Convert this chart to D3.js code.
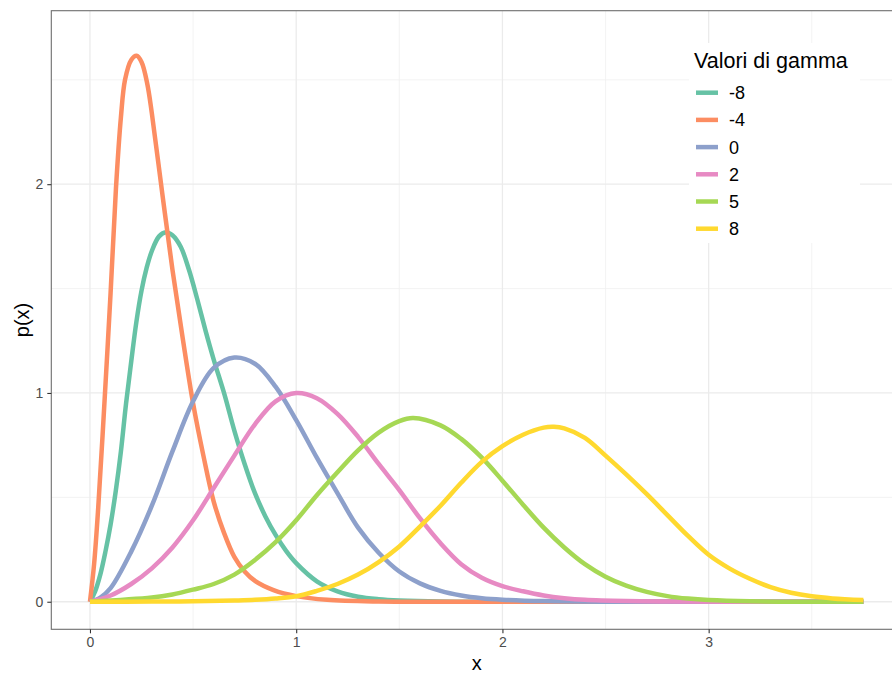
<!DOCTYPE html>
<html>
<head>
<meta charset="utf-8">
<script src="https://cdn.jsdelivr.net/npm/d3@7"></script>
<style>
  body { margin: 0; background: #fff; }
  svg { display: block; font-family: "Liberation Sans", Arial, sans-serif; }
</style>
</head>
<body>
<div id="main-vis"></div>
<script>
// values of gamma shown in the legend
const gammaValues = ['-8', '-4', '0', '2', '5', '8']

// curves, [x, p(x)]
const curveM8 = [[0,0],[0.025,0.05],[0.05,0.13],[0.075,0.24],[0.1,0.37],[0.125,0.53],[0.15,0.72],[0.175,0.95],[0.2,1.15],[0.225,1.34],[0.25,1.49],[0.275,1.6],[0.3,1.68],[0.335,1.75],[0.368,1.77],[0.4,1.755],[0.44,1.7],[0.48,1.59],[0.52,1.45],[0.56,1.3],[0.6,1.16],[0.65,1.0],[0.7,0.82],[0.75,0.66],[0.8,0.52],[0.85,0.41],[0.9,0.32],[0.95,0.245],[1.0,0.185],[1.1,0.098],[1.2,0.05],[1.3,0.024],[1.4,0.012],[1.5,0.006],[1.7,0.001],[2.0,0],[3.75,0]]
const curveM4 = [[0,0],[0.02,0.18],[0.04,0.45],[0.07,0.95],[0.1,1.48],[0.126,1.98],[0.15,2.32],[0.17,2.5],[0.2,2.595],[0.226,2.615],[0.25,2.585],[0.278,2.48],[0.3,2.34],[0.35,1.96],[0.4,1.59],[0.45,1.26],[0.5,0.95],[0.55,0.7],[0.6,0.48],[0.65,0.33],[0.7,0.215],[0.75,0.145],[0.8,0.1],[0.89,0.056],[1.0,0.027],[1.15,0.009],[1.4,0.001],[1.8,0],[3.75,0]]
const curve0 = [[0,0],[0.05,0.02],[0.1,0.065],[0.2,0.24],[0.3,0.46],[0.4,0.72],[0.5,0.96],[0.6,1.12],[0.7,1.17],[0.8,1.14],[0.9,1.03],[1.0,0.87],[1.1,0.69],[1.2,0.52],[1.3,0.355],[1.4,0.235],[1.5,0.145],[1.6,0.088],[1.7,0.052],[1.8,0.03],[1.9,0.017],[2.0,0.01],[2.2,0.003],[2.5,0],[3.75,0]]
const curve2 = [[0,0],[0.1,0.03],[0.2,0.085],[0.3,0.16],[0.4,0.26],[0.5,0.39],[0.6,0.545],[0.7,0.7],[0.8,0.85],[0.9,0.96],[1.0,1.0],[1.1,0.975],[1.2,0.9],[1.3,0.79],[1.4,0.66],[1.5,0.535],[1.6,0.4],[1.7,0.28],[1.8,0.18],[1.9,0.115],[2.0,0.075],[2.1,0.05],[2.2,0.03],[2.3,0.017],[2.4,0.009],[2.6,0.003],[2.8,0.001],[3.1,0],[3.75,0]]
const curve5 = [[0,0],[0.3,0.02],[0.4,0.035],[0.5,0.058],[0.6,0.085],[0.7,0.13],[0.8,0.2],[0.9,0.285],[1.0,0.39],[1.1,0.51],[1.2,0.62],[1.3,0.725],[1.4,0.81],[1.5,0.865],[1.567,0.88],[1.7,0.845],[1.8,0.78],[1.9,0.69],[2.0,0.58],[2.1,0.465],[2.2,0.355],[2.3,0.26],[2.4,0.18],[2.5,0.12],[2.6,0.077],[2.7,0.047],[2.8,0.027],[2.9,0.015],[3.0,0.008],[3.2,0.002],[3.5,0],[3.75,0]]
const curve8 = [[0,0],[0.3,0.001],[0.5,0.002],[0.7,0.006],[0.8,0.009],[0.9,0.015],[1.0,0.026],[1.1,0.052],[1.2,0.085],[1.3,0.13],[1.4,0.19],[1.5,0.265],[1.6,0.36],[1.7,0.46],[1.8,0.57],[1.9,0.67],[2.0,0.745],[2.1,0.8],[2.2,0.834],[2.25,0.838],[2.3,0.83],[2.4,0.785],[2.5,0.7],[2.6,0.61],[2.7,0.515],[2.8,0.415],[2.9,0.315],[3.0,0.225],[3.1,0.16],[3.2,0.11],[3.3,0.07],[3.4,0.043],[3.5,0.026],[3.6,0.016],[3.75,0.008]]

const curves = [curveM8, curveM4, curve0, curve2, curve5, curve8]

const xTicks = [0, 1, 2, 3]
const yTicks = [0, 1, 2]
const xMinor = [0.5, 1.5, 2.5, 3.5]
const yMinor = [0.5, 1.5, 2.5]

window.onload = setup

function setup () {
    const W = 892, H = 678
    const svg = d3.create('svg')
        .attr('width', W)
        .attr('height', H)

    const x = d3.scaleLinear().domain([-0.1875, 3.9375]).range([51.3, 902])
    const y = d3.scaleLinear().domain([-0.132, 2.831]).range([629.3, 10.7])
    const color = d3.scaleOrdinal().domain(gammaValues).range(d3.schemeSet2)

    // panel
    svg.append('rect')
        .attr('x', x.range()[0]).attr('y', y.range()[1])
        .attr('width', x.range()[1] - x.range()[0])
        .attr('height', y.range()[0] - y.range()[1])
        .attr('fill', '#fff')

    const grid = svg.append('g')
    grid.selectAll('.vminor').data(xMinor).join('line')
        .attr('x1', d => x(d)).attr('x2', d => x(d))
        .attr('y1', y.range()[0]).attr('y2', y.range()[1])
        .attr('stroke', '#f0f0f0').attr('stroke-width', 0.8)
    grid.selectAll('.hminor').data(yMinor).join('line')
        .attr('y1', d => y(d)).attr('y2', d => y(d))
        .attr('x1', x.range()[0]).attr('x2', x.range()[1])
        .attr('stroke', '#f0f0f0').attr('stroke-width', 0.8)
    grid.selectAll('.vmajor').data(xTicks).join('line')
        .attr('x1', d => x(d)).attr('x2', d => x(d))
        .attr('y1', y.range()[0]).attr('y2', y.range()[1])
        .attr('stroke', '#ebebeb').attr('stroke-width', 1.3)
    grid.selectAll('.hmajor').data(yTicks).join('line')
        .attr('y1', d => y(d)).attr('y2', d => y(d))
        .attr('x1', x.range()[0]).attr('x2', x.range()[1])
        .attr('stroke', '#ebebeb').attr('stroke-width', 1.3)

    // curves
    const line = d3.line()
        .x(d => x(d[0]))
        .y(d => y(d[1]))
        .curve(d3.curveCatmullRom.alpha(0.5))

    svg.append('g').selectAll('path')
        .data(curves)
        .join('path')
        .attr('d', line)
        .attr('fill', 'none')
        .attr('stroke', (d, i) => color(gammaValues[i]))
        .attr('stroke-width', 4.5)
        .attr('stroke-linejoin', 'round')

    // border
    svg.append('rect')
        .attr('x', x.range()[0]).attr('y', y.range()[1])
        .attr('width', x.range()[1] - x.range()[0])
        .attr('height', y.range()[0] - y.range()[1])
        .attr('fill', 'none')
        .attr('stroke', '#6e6e6e').attr('stroke-width', 1.1)

    // axes
    const xAxis = svg.append('g')
        .attr('transform', `translate(0,${y.range()[0]})`)
        .call(d3.axisBottom(x).tickValues(xTicks).tickFormat(d3.format('d')).tickSize(4).tickPadding(4))
    const yAxis = svg.append('g')
        .attr('transform', `translate(${x.range()[0]},0)`)
        .call(d3.axisLeft(y).tickValues(yTicks).tickFormat(d3.format('d')).tickSize(4).tickPadding(4))
    for (const ax of [xAxis, yAxis]) {
        ax.select('.domain').remove()
        ax.selectAll('line').attr('stroke', '#333').attr('stroke-width', 1.1)
        ax.selectAll('text')
            .attr('fill', '#4d4d4d')
            .style('font-size', '14px')
            .style('font-family', '"Liberation Sans", Arial, sans-serif')
    }

    svg.append('text')
        .attr('x', (x.range()[0] + x.range()[1]) / 2).attr('y', 670)
        .attr('text-anchor', 'middle')
        .style('font-size', '20px')
        .text('x')

    svg.append('text')
        .attr('transform', `translate(29,${(y.range()[0] + y.range()[1]) / 2}) rotate(-90)`)
        .attr('text-anchor', 'middle')
        .style('font-size', '20px')
        .text('p(x)')

    // legend
    const legend = svg.append('g')
    legend.append('rect')
        .attr('x', 689).attr('y', 43)
        .attr('width', 171).attr('height', 200)
        .attr('fill', '#fff')
    legend.append('text')
        .attr('x', 694).attr('y', 68)
        .style('font-size', '21.5px')
        .text('Valori di gamma')
    const item = legend.selectAll('.item')
        .data(gammaValues)
        .join('g')
        .attr('transform', (d, i) => `translate(0,${92.7 + i * 27.2})`)
    item.append('line')
        .attr('x1', 696).attr('x2', 718)
        .attr('stroke', d => color(d))
        .attr('stroke-width', 4.5)
    item.append('text')
        .attr('x', 729).attr('y', 0)
        .attr('dy', '0.36em')
        .style('font-size', '18px')
        .text(d => d)

    document.querySelector('#main-vis').appendChild(svg.node())
}
</script>
</body>
</html>
